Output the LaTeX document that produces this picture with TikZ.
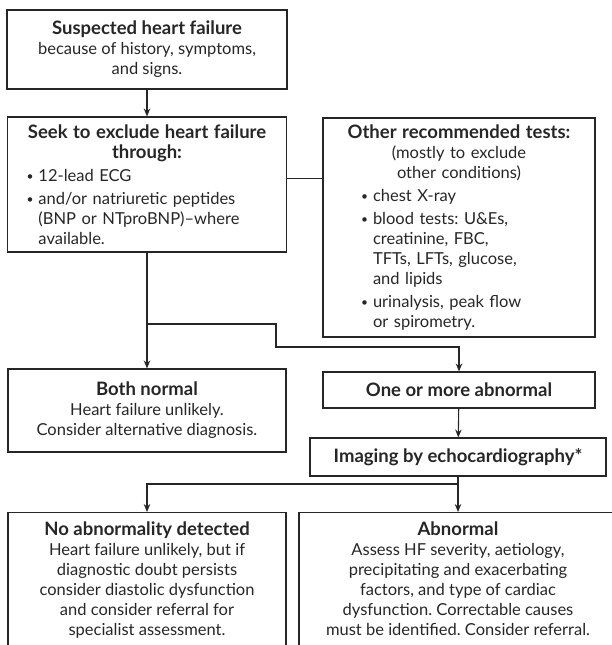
\documentclass[tikz,border=0pt]{standalone}
\usepackage{fontspec}
\setmainfont{Lato}
\usetikzlibrary{arrows.meta}
\newcommand{\bitem}[1]{\par\vspace{3pt}\hangindent=12pt\hangafter=1\noindent
  \makebox[12pt][l]{\raisebox{0.6pt}{\fontsize{12pt}{12pt}\selectfont\textbullet}}#1}
\newcommand{\hd}[1]{{\fontsize{18.5pt}{20pt}\selectfont\bfseries #1}}

\begin{document}
\begin{tikzpicture}[x=1pt,y=-1pt,
  box/.style={draw=black!85,line width=1.1pt,inner sep=0pt,text=black!85,
    font=\fontsize{16.5pt}{20pt}\selectfont\frenchspacing,align=center},
  listbox/.style={draw=black!85,line width=1.1pt,inner ysep=0pt,text=black!85,
    font=\fontsize{16.5pt}{20pt}\selectfont\frenchspacing},
  arr/.style={draw=black!85,line width=1.1pt,-{Stealth[length=8pt,width=6.5pt]}},
  link/.style={draw=black!85,line width=1.1pt}]
\useasboundingbox (0,0) rectangle (612,645);
\clip (0,0) rectangle (612,645);

% Start
\node[box,minimum width=280pt,minimum height=79pt] (suspect) at (147,49.5)
  {\hd{Suspected heart failure}\\ because of history, symptoms,\\ and signs.};

% First tests
\node[listbox,text width=255pt,inner xsep=12pt,minimum height=135pt] (seek) at (147,184.5)
  {{\centering\hd{Seek to exclude heart failure\\ through:}\par}
   \leftskip=7pt\rightskip=0pt plus 1fil\parindent=0pt
   \bitem{12-lead ECG}
   \bitem{and/or natriuretic peptides\newline (BNP or NTproBNP)--where\newline available.}\par};

% Other tests
\node[listbox,text width=256pt,inner xsep=8pt,minimum height=219pt] (other) at (459,227.5)
  {{\centering\hd{Other recommended tests:}\\ (mostly to exclude\\ other conditions)\par}
   \leftskip=30pt\rightskip=0pt plus 1fil\parindent=0pt
   \bitem{chest X-ray}
   \bitem{blood tests: U\&Es,\newline creatinine, FBC,\newline TFTs, LFTs, glucose,\newline and lipids}
   \bitem{urinalysis, peak flow\newline or spirometry.}\par};

% Results
\node[box,minimum width=278pt,minimum height=83pt] (normal) at (147,410.5)
  {\hd{Both normal}\\ Heart failure unlikely.\\ Consider alternative diagnosis.};
\node[box,minimum width=272pt,minimum height=36pt] (abn) at (459,390)
  {\hd{One or more abnormal}};
\node[box,minimum width=296pt,minimum height=38pt] (echo) at (458,457)
  {\hd{Imaging by echocardiography*}};

% Echo outcomes
\node[box,anchor=north,inner ysep=9pt,minimum width=278pt,text depth=150pt] (nodetect) at (147,512)
  {\hd{No abnormality detected}\\ Heart failure unlikely, but if\\ diagnostic doubt persists\\
   consider diastolic dysfunction\\ and consider referral for\\ specialist assessment.};
\node[box,anchor=north,inner ysep=9pt,minimum width=318pt,text depth=150pt] (echoabn) at (458,512)
  {\hd{Abnormal}\\ Assess HF severity, aetiology,\\ precipitating and exacerbating\\
   factors, and type of cardiac\\ dysfunction. Correctable causes\\ must be identified. Consider referral.};

% Connectors
\coordinate (fork1) at (seek.south |- 0,324);
\coordinate (jog) at (276,347);
\coordinate (fork2) at (echo.south |- 0,484);
\draw[arr] (suspect) -- (seek);
\draw[link] ([yshift=6pt]seek.east) -- ([yshift=6pt]seek.east -| other.west);
\draw[arr] (seek.south) -- (normal.north);
\draw[arr] (fork1) -| (jog) -| (abn.north);
\draw[arr] (abn) -- (echo);
\draw[arr] (echo.south) -- (echoabn.north);
\draw[arr] (fork2) -| (nodetect.north);
\end{tikzpicture}
\end{document}
